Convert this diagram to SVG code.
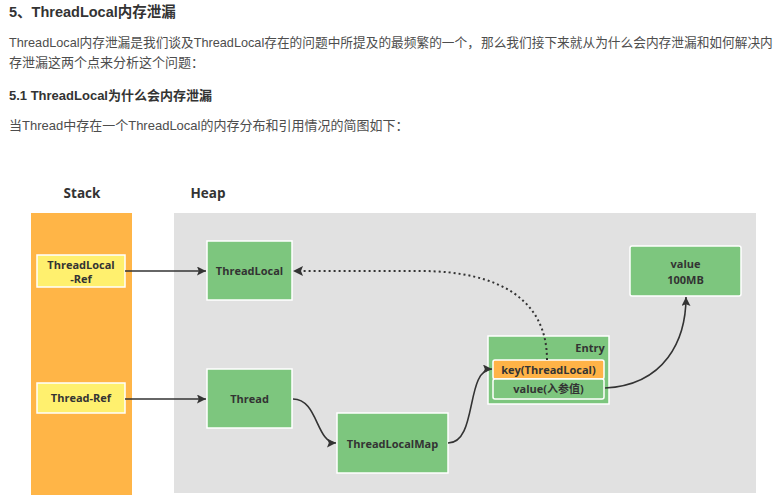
<svg xmlns="http://www.w3.org/2000/svg" width="778" height="495" viewBox="0 0 778 495">
<style>
.h{font-family:"Liberation Sans","Noto Sans CJK SC",sans-serif;font-weight:bold;fill:#333;}
.p{font-family:"Liberation Sans","Noto Sans CJK SC",sans-serif;font-size:13px;fill:#4d4d4d;}
.sm{font-size:12.7px;}
.lbl{font-family:"Open Sans","Noto Sans CJK SC",sans-serif;font-weight:bold;font-size:11px;fill:#333;text-anchor:middle;}
.big{font-size:13.5px;}
.g{fill:#7DC67E;stroke:#fff;stroke-width:1.5;}
.y{fill:#FFF06E;stroke:#fff;stroke-width:1.5;}
.o{fill:#FFB347;stroke:#fff;stroke-width:1.5;}
.c{fill:none;stroke:#333;stroke-width:1.6;}
.d{fill:none;stroke:#333;stroke-width:2;stroke-dasharray:2 3;}
</style>
<defs>
<marker id="ah" viewBox="0 0 10 10" refX="10" refY="5" markerWidth="10" markerHeight="9" markerUnits="userSpaceOnUse" orient="auto">
<path d="M0,0 L10,5 L0,10 L2,5 Z" fill="#333"/>
</marker>
</defs>
<rect width="778" height="495" fill="#fff"/>
<text class="h" x="9" y="17" font-size="14.5">5、ThreadLocal内存泄漏</text>
<text class="p sm" x="9" y="47">ThreadLocal内存泄漏是我们谈及ThreadLocal存在的问题中所提及的最频繁的一个，</text>
<text class="p sm" x="481" y="47">那么我们接下来就从为什么会内存泄漏和如何解决内</text>
<text class="p" x="9" y="67">存泄漏这两个点来分析这个问题：</text>
<text class="h" x="9" y="100" font-size="13">5.1 ThreadLocal为什么会内存泄漏</text>
<text class="p" x="9" y="130">当Thread中存在一个ThreadLocal的内存分布和引用情况的简图如下：</text>

<g id="stack">
<rect x="31" y="213" width="101" height="282" fill="#FFB547"/>
<text class="lbl big" x="82" y="198">Stack</text>
</g>
<g id="heap">
<rect x="174" y="213" width="582" height="280" fill="#E1E1E1"/>
<text class="lbl big" x="208" y="198">Heap</text>
</g>

<g id="threadlocal-ref">
<rect class="y" x="37" y="255" width="88" height="32"/>
<text class="lbl" x="81" y="269">ThreadLocal</text>
<text class="lbl" x="81" y="283">-Ref</text>
</g>
<g id="thread-ref">
<rect class="y" x="37" y="383" width="88" height="30"/>
<text class="lbl" x="81" y="402">Thread-Ref</text>
</g>
<g id="threadlocal">
<rect class="g" x="207" y="241" width="85" height="59"/>
<text class="lbl" x="249.5" y="275">ThreadLocal</text>
</g>
<g id="thread">
<rect class="g" x="207" y="369" width="85" height="59"/>
<text class="lbl" x="249.5" y="403">Thread</text>
</g>
<g id="threadlocalmap">
<rect class="g" x="337" y="413" width="111" height="60"/>
<text class="lbl" x="392.5" y="448">ThreadLocalMap</text>
</g>
<g id="entry">
<rect class="g" x="488" y="336" width="121" height="68"/>
<text class="lbl" x="590" y="352">Entry</text>
<rect class="o" x="493" y="360" width="111" height="19" rx="2"/>
<text class="lbl" x="548.5" y="374">key(ThreadLocal)</text>
<rect class="g" x="493" y="379" width="111" height="20" rx="2"/>
<text class="lbl" x="548.5" y="393">value(入参值)</text>
</g>
<g id="value100mb">
<rect class="g" x="630" y="246" width="111" height="50" rx="2"/>
<text class="lbl" x="685.5" y="268">value</text>
<text class="lbl" x="685.5" y="284">100MB</text>
</g>

<g id="connectors">
<path class="c" d="M125,271 L206,271" marker-end="url(#ah)"/>
<path class="c" d="M125,399 L206,399" marker-end="url(#ah)"/>
<path class="c" d="M293,399 C318,399 316,443 336,443" marker-end="url(#ah)"/>
<path class="c" d="M448,443 C478,443 465,369 492,369" marker-end="url(#ah)"/>
<path class="c" d="M605,388 C665,385 686,340 686,297" marker-end="url(#ah)"/>
<path class="d" d="M547,360 C547,300 500,271 420,271 L300,271"/>
<path d="M293,271 L303,266 L301,271 L303,276 Z" fill="#333"/>
</g>
</svg>
